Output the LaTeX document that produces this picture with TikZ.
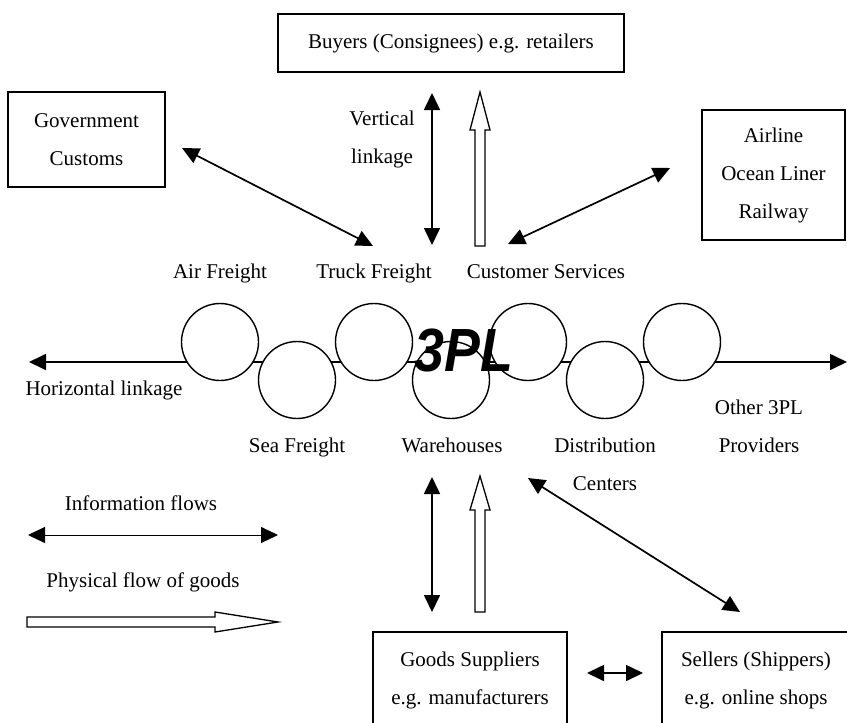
\documentclass[tikz,border=0pt]{standalone}
\usepackage{fontspec}
\setmainfont{Liberation Serif}
\newfontfamily\plfont{Liberation Sans}
\usetikzlibrary{arrows.meta,calc}

% hollow arrow pointing up: x, base y, tip y, head length
\newcommand{\fatup}[4]{%
  \draw[goods] (#1-5,#2) -- (#1-5,#3+#4) -- (#1-10,#3+#4) -- (#1,#3)
    -- (#1+10,#3+#4) -- (#1+5,#3+#4) -- (#1+5,#2) -- cycle;}
% hollow arrow pointing right: y, tail x, tip x, head length
\newcommand{\fatright}[4]{%
  \draw[goods] (#2,#1-5) -- (#3-#4,#1-5) -- (#3-#4,#1-10) -- (#3,#1)
    -- (#3-#4,#1+10) -- (#3-#4,#1+5) -- (#2,#1+5) -- cycle;}

\begin{document}
\begin{tikzpicture}[x=1pt,y=-1pt,
  txt/.style={font=\fontsize{21}{38}\selectfont, inner sep=0pt,
    text height=15pt, text depth=5pt},
  box/.style={draw, line width=1.3pt, font=\fontsize{21}{38}\selectfont,
    align=center, inner sep=0pt},
  hub/.style={circle, draw, fill=white, line width=1.4pt,
    minimum size=77pt, inner sep=0pt},
  info/.style={line width=1.7pt,
    {Triangle[length=17pt,width=16pt]}-{Triangle[length=17pt,width=16pt]}},
  thininfo/.style={info, line width=1pt},
  goods/.style={draw, line width=1.3pt, fill=white, line join=miter}
]
\useasboundingbox (0,0) rectangle (847,723);

% partner boxes
\node[box, minimum width=346pt, minimum height=58pt] (buy) at (451,43)
  {Buyers (Consignees) e.g. retailers};
\node[box, minimum width=157pt, minimum height=95pt] (gov) at (86.5,139.5)
  {Government\\Customs};
\node[box, minimum width=143pt, minimum height=130pt] (air) at (773.5,175)
  {Airline\\Ocean Liner\\Railway};
\node[box, minimum width=194pt, minimum height=96pt] (sup) at (470,680)
  {Goods Suppliers\\e.g. manufacturers};
\node[box, minimum width=188pt, minimum height=96pt] (sel) at (756,680)
  {Sellers (Shippers)\\e.g. online shops};

% horizontal linkage behind the service chain
\coordinate (hl) at (29,362);
\coordinate (hr) at (847,362);
\draw[info] (hl) -- (hr);

% chain of 3PL services
\node[hub] (c1) at (220,342) {};
\node[hub] (c2) at (297,380) {};
\node[hub] (c3) at (374,342) {};
\node[hub] (c4) at (451,380) {};
\node[hub] (c5) at (528,342) {};
\node[hub] (c6) at (605,380) {};
\node[hub] (c7) at (682,342) {};
\node[font=\plfont\bfseries\itshape\fontsize{61}{61}\selectfont,
  inner sep=0pt, xscale=0.88] (tpl) at (464,350) {3PL};

% service labels
\node[txt] (lair)   at (220,273) {Air Freight};
\node[txt] (ltruck) at (374,273) {Truck Freight};
\node[txt] (lcust)  at (546,273) {Customer Services};
\node[txt] (lsea)   at (297,447) {Sea Freight};
\node[txt] (lware)  at (452,447) {Warehouses};
\node[txt] (ldista) at (605,447) {Distribution};
\node[txt] (ldistb) at (605,485) {Centers};
\node[txt] (lotha)  at (759,409) {Other 3PL};
\node[txt] (lothb)  at (759,447) {Providers};
\node[txt] (lhor)   at (104,390) {Horizontal linkage};
\node[txt] (lvera)  at (382,120) {Vertical};
\node[txt] (lverb)  at (382,158) {linkage};

% information links
\coordinate (g1) at (182,148);  \coordinate (g2) at (373,246);
\draw[info] (g1) -- (g2);
\coordinate (v1) at (432,93);   \coordinate (v2) at (432,245);
\draw[info] (v1) -- (v2);
\coordinate (a1) at (508,244);  \coordinate (a2) at (670,168);
\draw[info] (a1) -- (a2);
\coordinate (w1) at (432,477);  \coordinate (w2) at (432,612);
\draw[info] (w1) -- (w2);
\coordinate (s1) at (528,478);  \coordinate (s2) at (740,612);
\draw[info] (s1) -- (s2);
\coordinate (p1) at (587,673);  \coordinate (p2) at (643,673);
\draw[info] (p1) -- (p2);

% physical flows
\fatup{480}{246}{92}{38}
\fatup{480}{612}{476}{34}

% legend
\node[txt] (linfo) at (141,505) {Information flows};
\coordinate (i1) at (28,535);  \coordinate (i2) at (278,535);
\draw[thininfo] (i1) -- (i2);
\node[txt] (lphys) at (143,582) {Physical flow of goods};
\fatright{622}{27}{278}{63}
\end{tikzpicture}
\end{document}
